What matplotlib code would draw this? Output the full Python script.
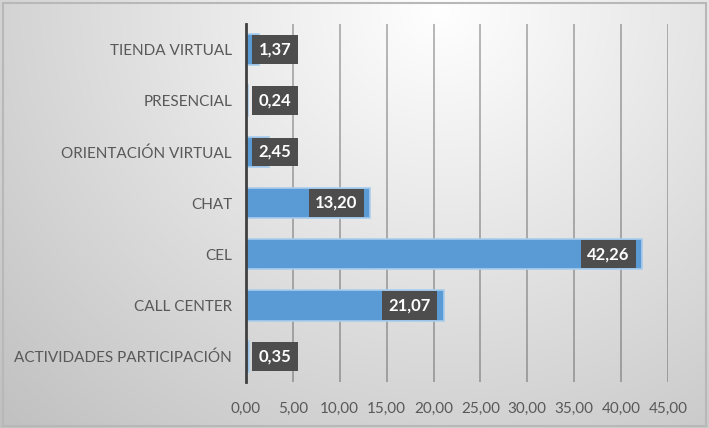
import numpy as np
import matplotlib
matplotlib.use("Agg")
import matplotlib.pyplot as plt
from matplotlib.patches import Rectangle

categorias = ["ACTIVIDADES PARTICIPACIÓN", "CALL CENTER", "CEL", "CHAT",
              "ORIENTACIÓN VIRTUAL", "PRESENCIAL", "TIENDA VIRTUAL"]
valores = [0.35, 21.07, 42.26, 13.20, 2.45, 0.24, 1.37]
ticks_x = [0, 5, 10, 15, 20, 25, 30, 35, 40, 45]

plt.rcParams['font.family'] = ['Lato', 'DejaVu Sans']

W, H = 709, 428
fig = plt.figure(figsize=(W / 100, H / 100), dpi=100)

# fondo con degradado radial
bg = fig.add_axes([0, 0, 1, 1], zorder=-10)
yy, xx = np.mgrid[0:H, 0:W]
d = np.sqrt(((xx - 440) / 560.0) ** 2 + ((yy - 10) / 520.0) ** 2)
shade = np.clip(1.0 - 0.22 * d, 0.76, 1.0)
bg.imshow(np.dstack([shade] * 3), aspect='auto', extent=[0, 1, 0, 1])
bg.add_patch(Rectangle((0.004, 0.005), 0.992, 0.988, fill=False,
                       edgecolor='#b8b8b8', lw=1.5, transform=bg.transAxes))
bg.set_axis_off()

ax = fig.add_axes([246 / W, 1 - 382 / H, (668 - 246) / W, (382 - 24) / H])
ax.set_facecolor('none')

y = np.arange(len(categorias))
ax.barh(y, valores, height=0.6, color='#5b9bd5', edgecolor='#a9cdec',
        linewidth=1.2, zorder=3)

ax.set_xlim(0, 45)
ax.set_ylim(-0.5, len(categorias) - 0.5)
ax.set_xticks(ticks_x)
ax.set_xticklabels([f"{t:.2f}".replace('.', ',') for t in ticks_x])
ax.set_yticks(y)
ax.set_yticklabels(categorias)
ax.tick_params(axis='both', length=0, labelsize=11, colors='#595959')
ax.tick_params(axis='y', pad=10)
ax.tick_params(axis='x', pad=14)

ax.grid(axis='x', color='#404040', alpha=0.4, lw=1.3, zorder=0)
for s in ['top', 'right', 'bottom']:
    ax.spines[s].set_visible(False)
ax.spines['left'].set_color('#404040')
ax.spines['left'].set_linewidth(2)
ax.spines['left'].set_zorder(5)

caja = dict(boxstyle='square,pad=0.38', fc='#4d4d4d', ec='none')
for yi, v in zip(y, valores):
    txt = f"{v:.2f}".replace('.', ',')
    if v < 8:
        ax.annotate(txt, (0, yi), xytext=(9, 0), textcoords='offset points',
                    ha='left', va='center', color='white', fontsize=12,
                    fontweight='bold', zorder=6, bbox=caja)
    else:
        ax.annotate(txt, (v, yi), xytext=(-9, 0), textcoords='offset points',
                    ha='right', va='center', color='white', fontsize=12,
                    fontweight='bold', zorder=6, bbox=caja)

fig.savefig("out.png", dpi=100)
